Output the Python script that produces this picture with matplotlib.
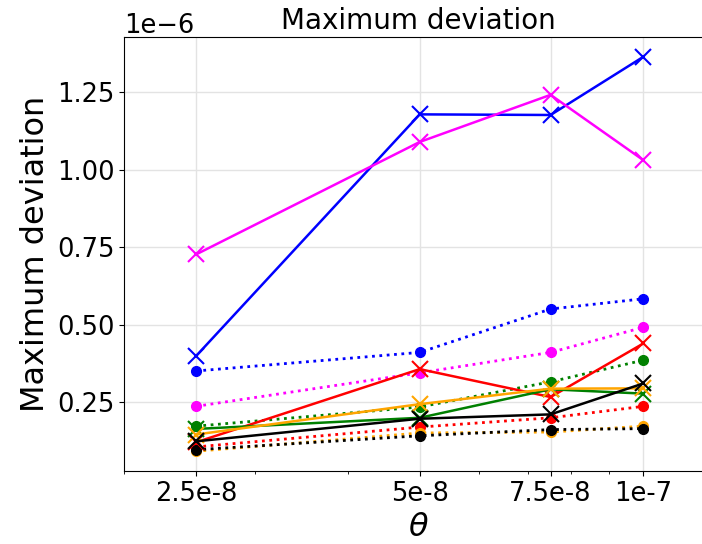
import numpy as np
import matplotlib
matplotlib.use('Agg')
import matplotlib.pyplot as plt
import matplotlib.ticker as mtick

theta = [2.5e-8, 5e-8, 7.5e-8, 1e-7]
theta_labels = ['2.5e-8', '5e-8', '7.5e-8', '1e-7']

# max deviation per method (units of 1e-6), solid = 'x', dotted = 'o'
blue_x = [0.398, 1.178, 1.176, 1.364]
magenta_x = [0.726, 1.089, 1.241, 1.030]
red_x = [0.120, 0.356, 0.266, 0.439]
green_x = [0.163, 0.199, 0.291, 0.277]
orange_x = [0.145, 0.243, 0.293, 0.294]
black_x = [0.123, 0.196, 0.210, 0.310]

blue_o = [0.350, 0.410, 0.550, 0.583]
magenta_o = [0.236, 0.344, 0.410, 0.491]
red_o = [0.105, 0.169, 0.199, 0.236]
green_o = [0.172, 0.234, 0.315, 0.385]
orange_o = [0.091, 0.150, 0.153, 0.172]
black_o = [0.096, 0.141, 0.161, 0.164]

solid = [('blue', blue_x), ('magenta', magenta_x), ('red', red_x),
         ('green', green_x), ('orange', orange_x), ('black', black_x)]
dotted = [('blue', blue_o), ('magenta', magenta_o), ('red', red_o),
          ('green', green_o), ('orange', orange_o), ('black', black_o)]

fig = plt.figure(figsize=(7.02, 5.44), dpi=100)
# right spine sits just past the canvas edge
ax = fig.add_axes([0.1766, 0.1342, 0.84, 0.7978])

x = np.array(theta)
for c, vals in dotted:
    ax.plot(x, np.array(vals) * 1e-6, color=c, ls=':', lw=2, marker='o', ms=7)
for c, vals in solid:
    ax.plot(x, np.array(vals) * 1e-6, color=c, ls='-', lw=1.8, marker='x', ms=12, mew=1.5)

ax.set_xscale('log')
ax.set_xlim(2e-8, 1.243e-7)
ax.set_xticks(theta)
ax.set_xticklabels(theta_labels)
ax.xaxis.set_minor_formatter(mtick.NullFormatter())
ax.set_yticks(np.array([0.25, 0.5, 0.75, 1.0, 1.25]) * 1e-6)

ax.grid(True, which='major', color='#e3e3e3', lw=1)
ax.set_axisbelow(True)
ax.tick_params(labelsize=18.5)
ax.yaxis.get_offset_text().set_fontsize(18.5)

ax.set_title('Maximum deviation', fontsize=20)
ax.set_ylabel('Maximum deviation', fontsize=23)
ax.set_xlabel(r'$\theta$', fontsize=23)

fig.savefig('out.png', dpi=100)
